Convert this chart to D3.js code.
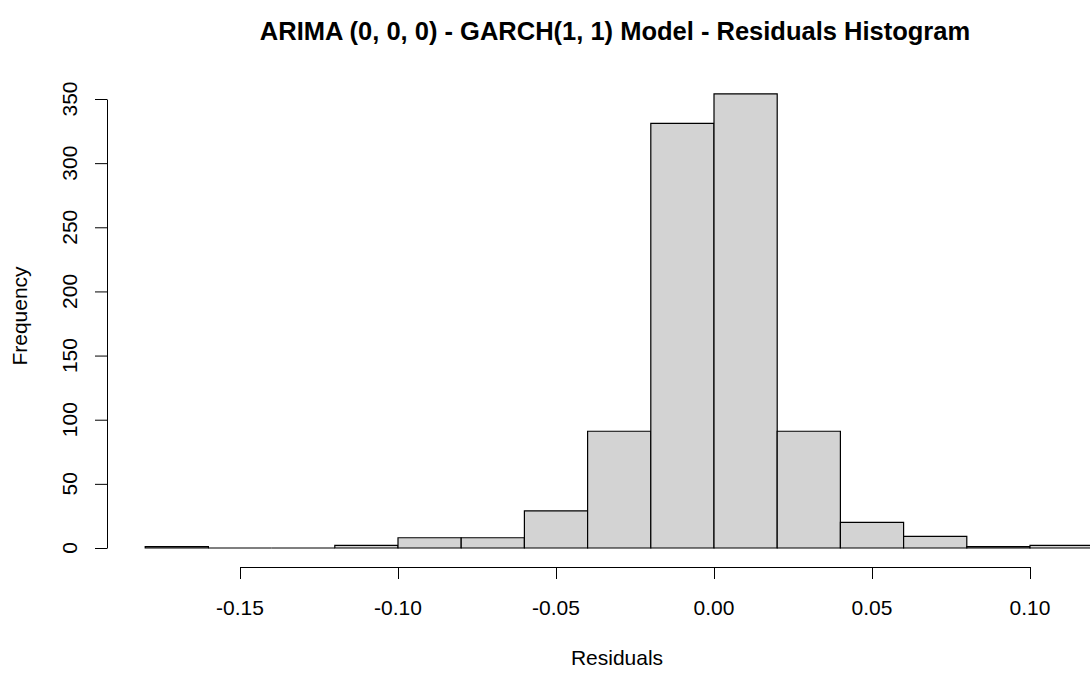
<!DOCTYPE html>
<html>
<head>
<meta charset="utf-8">
<script src="https://cdn.jsdelivr.net/npm/d3@7"></script>
<style>
  html, body { margin: 0; padding: 0; background: #fff; }
  svg { display: block; }
  text { font-family: "Liberation Sans", Arial, sans-serif; fill: #000; }
</style>
</head>
<body>
<svg id="chart" width="1090" height="673"></svg>
<script>
// ---- data ----
const binStarts = [-0.18, -0.16, -0.14, -0.12, -0.10, -0.08, -0.06, -0.04, -0.02, 0.00, 0.02, 0.04, 0.06, 0.08, 0.10];
const binWidth = 0.02;
const counts = [1, 0, 0, 2, 8, 8, 29, 91, 331, 354, 91, 20, 9, 1, 2];
const xTicks = [-0.15, -0.10, -0.05, 0.00, 0.05, 0.10];
const xTickLabels = ["-0.15", "-0.10", "-0.05", "0.00", "0.05", "0.10"];
const yTicks = [0, 50, 100, 150, 200, 250, 300, 350];
const titleText = "ARIMA (0, 0, 0) - GARCH(1, 1) Model - Residuals Histogram";
const xLabel = "Residuals";
const yLabel = "Frequency";

// ---- layout ----
const svg = d3.select("#chart");
const x = d3.scaleLinear().domain([-0.15, 0.10]).range([240, 1030]);
const y = d3.scaleLinear().domain([0, 350]).range([548, 99]);
const xAxisY = 567;
const yAxisX = 107;
const plotCenterX = 619;

// bars (drawn as closed paths so zero-count bins still show as a line)
svg.append("g").selectAll("path")
  .data(binStarts.map((s, i) => ({ s, c: counts[i] })))
  .join("path")
  .attr("d", d => {
    const p = d3.path();
    const x0 = x(d.s), x1 = x(d.s + binWidth), y0 = y(0), y1 = y(d.c);
    p.moveTo(x0, y0); p.lineTo(x0, y1); p.lineTo(x1, y1); p.lineTo(x1, y0); p.closePath();
    return p.toString();
  })
  .attr("fill", "#d3d3d3")
  .attr("stroke", "#000")
  .attr("stroke-width", 1.2);

// x axis
const xAxis = d3.axisBottom(x).tickValues(xTicks).tickSize(12).tickSizeOuter(0).tickFormat("");
const gx = svg.append("g").attr("transform", `translate(0,${xAxisY})`).call(xAxis);
gx.selectAll("path, line").attr("stroke", "#000").attr("stroke-width", 1);
svg.append("g").selectAll("text")
  .data(xTicks)
  .join("text")
  .attr("x", d => x(d))
  .attr("y", 615)
  .attr("text-anchor", "middle")
  .style("font-size", "21px")
  .text((d, i) => xTickLabels[i]);

// y axis
const yAxis = d3.axisLeft(y).tickValues(yTicks).tickSize(12).tickSizeOuter(0).tickFormat("");
const gy = svg.append("g").attr("transform", `translate(${yAxisX},0)`).call(yAxis);
gy.selectAll("path, line").attr("stroke", "#000").attr("stroke-width", 1);
svg.append("g").selectAll("text")
  .data(yTicks)
  .join("text")
  .attr("transform", d => `translate(77,${y(d)}) rotate(-90)`)
  .attr("text-anchor", "middle")
  .style("font-size", "21px")
  .text(d => d);

// axis titles
svg.append("text")
  .attr("x", plotCenterX - 2)
  .attr("y", 665)
  .attr("text-anchor", "middle")
  .style("font-size", "21px")
  .text(xLabel);

svg.append("text")
  .attr("transform", `translate(27,316) rotate(-90)`)
  .attr("text-anchor", "middle")
  .style("font-size", "21px")
  .text(yLabel);

// title
svg.append("text")
  .attr("x", plotCenterX - 4)
  .attr("y", 40)
  .attr("text-anchor", "middle")
  .style("font-size", "25.5px")
  .style("font-weight", "bold")
  .text(titleText);
</script>
</body>
</html>
